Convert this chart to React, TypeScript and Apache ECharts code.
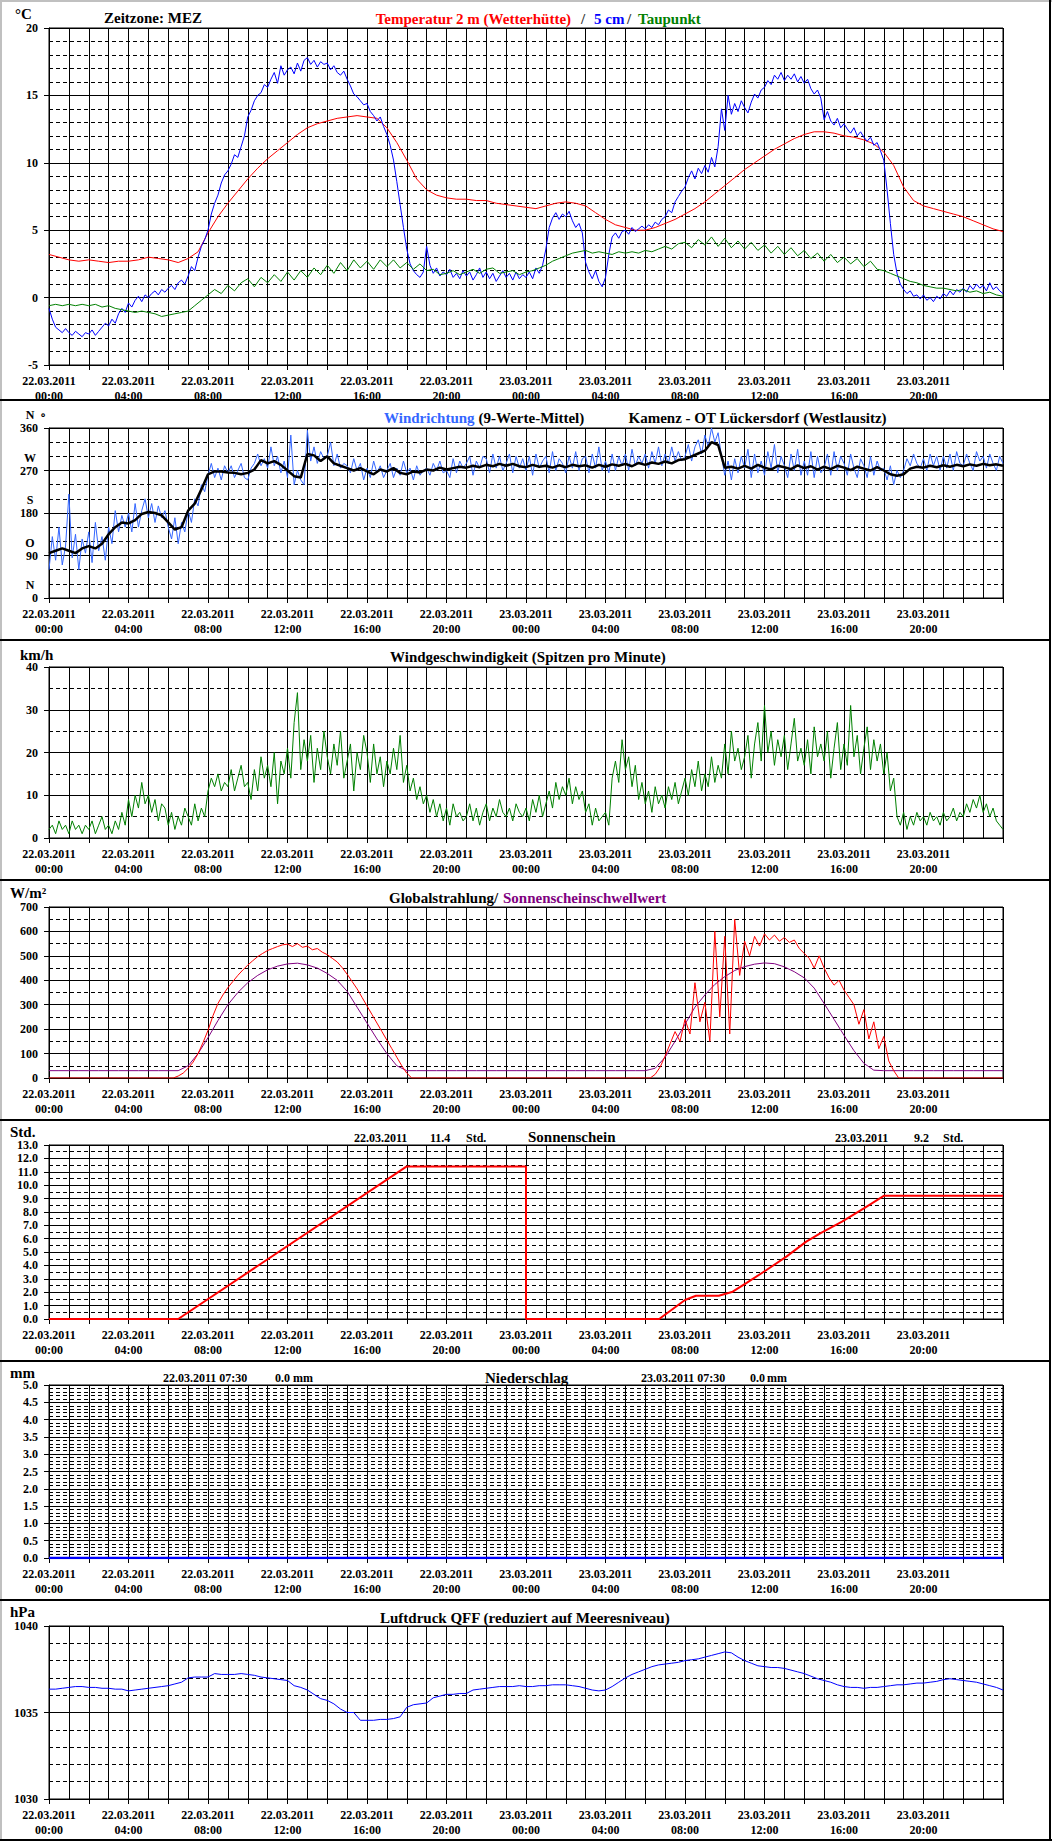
import React, { useEffect, useRef } from 'react';
import * as echarts from 'echarts';

const FONT = "'Times New Roman', 'Liberation Serif', 'DejaVu Serif', serif";

// ---- tick labels ----
const dates = ['22.03.2011', '23.03.2011'];
const times = ['00:00', '04:00', '08:00', '12:00', '16:00', '20:00'];
const dirLetterValues = [0, 90, 180, 270, 360];
const dirLetters = ['N', 'O', 'S', 'W', 'N'];

// ---- Panel 1: temperatures (°C) ----
// 2 m air temperature, every 30 min from 22.03 00:00
const temp2m = [
  3.2, 3.0, 2.8, 2.7, 2.8, 2.7, 2.6, 2.7, 2.7, 2.8, 3.0, 2.9, 2.8, 2.6, 2.9, 3.4,
  4.8, 6.0, 7.0, 7.9, 8.8, 9.6, 10.3, 10.9, 11.5, 12.1, 12.6, 12.9, 13.1, 13.3, 13.4, 13.5,
  13.4, 13.3, 12.6, 11.5, 10.2, 8.8, 8.0, 7.6, 7.4, 7.3, 7.3, 7.2, 7.2, 7.0, 6.9, 6.8,
  6.7, 6.6, 6.8, 7.0, 7.1, 7.0, 6.8, 6.3, 5.8, 5.4, 5.2, 5.0, 5.0, 5.2, 5.5, 5.8,
  6.2, 6.6, 7.1, 7.7, 8.3, 8.9, 9.5, 10.0, 10.5, 11.0, 11.4, 11.8, 12.1, 12.3, 12.3, 12.2,
  12.0, 11.9, 11.7, 11.4, 10.8, 9.8, 8.2, 7.2, 6.8, 6.6, 6.4, 6.2, 6.0, 5.7, 5.4, 5.1,
  4.9,
];
// 5 cm temperature, every 10 min
const temp5cm = [
  -0.8, -1.6, -2.2, -2.4, -2.6, -2.3,
  -2.6, -2.8, -2.5, -2.7, -2.9, -2.6,
  -2.7, -2.4, -2.8, -2.5, -2.2, -1.9,
  -2.1, -1.6, -1.9, -1.2, -0.8, -1.1,
  -0.4, -0.7, -0.2, 0.1, -0.3, 0.2,
  0.0, 0.3, 0.5, 0.2, 0.6, 0.4,
  0.7, 0.9, 0.6, 1.1, 1.3, 1.0,
  1.6, 2.3, 2.0, 3.0, 3.8, 4.3,
  5.0, 6.2, 7.0, 7.6, 8.5, 9.1,
  9.4, 9.9, 10.6, 10.4, 11.2, 12.0,
  13.4, 13.9, 14.6, 15.0, 15.2, 15.8,
  15.6, 16.2, 16.7, 15.9, 17.2, 16.5,
  16.9, 17.1, 16.6, 17.4, 16.8, 17.6,
  17.8, 17.3, 17.6, 17.1, 17.5, 17.3,
  17.4, 16.9, 17.2, 16.7, 16.5, 16.8,
  16.2, 15.7, 15.1, 14.9, 14.6, 14.3,
  14.4, 13.8, 13.5, 13.1, 13.4, 12.7,
  12.1, 11.3, 10.2, 8.6, 6.9, 5.2,
  3.6, 2.5, 2.0, 1.7, 1.5, 1.9,
  3.8, 2.4, 1.8, 2.2, 1.6, 1.9,
  1.7, 2.1, 1.5, 1.8, 1.4, 2.0,
  1.6, 1.9, 1.3, 1.7, 2.2, 1.5,
  1.9, 1.4, 1.8, 1.2, 1.6, 2.0,
  1.5, 1.8, 1.3, 1.9, 1.4, 1.7,
  1.5, 1.9, 1.4, 2.2, 1.8, 2.4,
  3.6, 5.2, 5.9, 6.3, 5.8, 6.2,
  6.0, 6.4, 5.7, 5.2, 5.5, 4.8,
  2.6, 1.9, 1.4, 2.0, 1.2, 0.8,
  1.5, 3.2, 4.5, 4.8, 4.4, 4.9,
  5.0, 4.7, 5.2, 4.9, 5.1, 5.3,
  5.1, 5.4, 5.2, 5.6, 5.4, 5.8,
  6.0, 6.5, 6.3, 7.1, 7.5, 7.9,
  8.2, 8.9, 9.4, 8.8, 9.6, 9.2,
  9.8, 9.3, 10.4, 9.7, 11.2, 14.0,
  12.4, 15.0, 13.6, 14.4, 13.8, 14.6,
  14.1, 13.7, 14.5, 15.1, 14.8, 15.4,
  15.6, 16.1, 15.8, 16.5, 16.2, 16.7,
  16.1, 16.5, 16.2, 16.6, 16.0, 16.4,
  15.9, 16.2, 15.5, 15.1, 15.4, 14.8,
  13.2, 13.8, 13.1, 12.8, 13.3, 12.6,
  12.9, 12.5, 12.2, 12.6, 12.0, 12.3,
  11.9, 11.6, 11.9, 11.3, 11.5, 10.9,
  10.2, 8.0, 5.5, 3.2, 1.8, 1.0,
  0.6, 0.3, 0.5, 0.1, 0.2, -0.1,
  0.2, -0.2, 0.0, -0.3, 0.1, -0.1,
  0.3, 0.1, 0.5, 0.2, 0.6, 0.4,
  0.7, 0.4, 0.9, 0.6, 1.0, 0.7,
  0.9, 0.5, 1.1, 0.6, 0.8, 0.5,
  0.3,
];
// dew point, every 20 min
const dewPoint = [
  -0.6, -0.5, -0.6, -0.5, -0.6, -0.5, -0.6, -0.5, -0.7, -0.6, -0.8, -0.9,
  -1.0, -1.1, -1.0, -1.1, -1.2, -1.4, -1.3, -1.2, -1.1, -1.0, -0.6, -0.2,
  0.2, 0.6, 0.3, 0.9, 0.5, 1.1, 1.4, 0.8, 1.5, 1.1, 1.7, 1.2,
  1.9, 1.3, 2.0, 1.5, 2.2, 1.7, 2.4, 1.8, 2.6, 2.0, 2.8, 2.2,
  2.7, 2.1, 2.8, 2.3, 2.8, 2.2, 2.6, 2.1, 2.5, 2.0, 2.1, 1.7,
  1.8, 2.0, 1.7, 1.9, 2.1, 1.8, 2.1, 2.2, 1.8, 1.9, 2.0, 1.7,
  1.9, 2.0, 2.2, 2.4, 2.7, 2.9, 3.1, 3.3, 3.4, 3.5, 3.3, 3.4,
  3.3, 3.2, 3.4, 3.3, 3.4, 3.3, 3.5, 3.4, 3.6, 3.8, 3.6, 4.0,
  4.1, 3.7, 4.3, 3.9, 4.5, 3.8, 4.4, 3.7, 4.2, 3.6, 4.1, 3.5,
  3.9, 3.3, 3.8, 3.2, 3.7, 3.1, 3.5, 2.9, 3.3, 2.7, 3.2, 2.6,
  3.0, 2.5, 2.9, 2.3, 2.7, 2.1, 2.0, 1.8, 1.6, 1.4, 1.2, 1.1,
  0.9, 0.8, 0.7, 0.7, 0.6, 0.5, 0.6, 0.4, 0.5, 0.3, 0.4, 0.2,
  0.1,
];

// ---- Panel 2: wind direction (degrees) ----
// raw, every 10 min
const windDirRaw = [
  60, 130, 80, 150, 70, 110,
  220, 85, 135, 60, 125, 95,
  140, 75, 160, 100, 130, 80,
  150, 115, 185, 140, 175, 150,
  180, 140, 200, 150, 185, 210,
  170, 200, 160, 195, 170, 185,
  150, 125, 170, 115, 160, 140,
  185, 160, 210, 195, 240, 225,
  260, 285, 255, 275, 250, 280,
  265, 280, 255, 270, 285, 255,
  250, 275, 285, 305, 280, 295,
  275, 320, 280, 300, 265, 290,
  255, 345, 240, 270, 250, 240,
  355, 290, 320, 285, 310, 295,
  300, 330, 280, 305, 275, 285,
  280, 265, 295, 270, 285, 250,
  275, 255, 290, 265, 280, 255,
  270, 285, 255, 275, 260, 290,
  265, 275, 250, 280, 260, 270,
  275, 260, 285, 270, 290, 265,
  270, 255, 295, 265, 290, 275,
  285, 300, 260, 290, 275, 300,
  295, 265, 305, 275, 300, 270,
  285, 305, 265, 300, 275, 295,
  270, 300, 260, 305, 275, 290,
  300, 265, 310, 270, 295, 285,
  265, 300, 275, 310, 270, 295,
  300, 265, 305, 275, 320, 270,
  290, 265, 305, 270, 300, 280,
  305, 270, 315, 280, 300, 285,
  305, 275, 310, 285, 320, 280,
  305, 285, 320, 290, 310, 290,
  300, 325, 290, 320, 335, 305,
  345, 320, 360, 330, 350, 300,
  260, 290, 250, 295, 265, 300,
  275, 315, 255, 305, 265, 290,
  260, 310, 275, 325, 265, 300,
  280, 255, 305, 270, 315, 260,
  290, 260, 310, 255, 300, 265,
  275, 305, 260, 310, 270, 300,
  285, 260, 305, 275, 255, 295,
  280, 255, 300, 260, 290, 270,
  275, 250, 280, 240, 270, 255,
  270, 295, 280, 305, 285, 275,
  295, 270, 305, 280, 300, 270,
  300, 275, 305, 270, 310, 285,
  280, 305, 285, 270, 310, 290,
  300, 275, 305, 285, 270, 300,
  285,
];
// 9-value mean, every 20 min
const windDirMean = [
  95, 100, 105, 100, 95, 105, 110, 105, 115, 135, 150, 160,
  158, 165, 178, 182, 180, 175, 160, 145, 150, 185, 200, 230,
  262, 268, 268, 266, 265, 262, 265, 272, 292, 285, 290, 282,
  270, 258, 255, 305, 302, 290, 300, 285, 280, 275, 270, 275,
  268, 262, 272, 268, 275, 265, 262, 268, 266, 272, 270, 276,
  272, 275, 278, 276, 280, 277, 282, 279, 284, 280, 284, 279,
  277, 282, 278, 280, 276, 281, 277, 282, 279, 281, 276, 282,
  278, 283, 280, 284, 279, 286, 282, 287, 284, 289, 285, 292,
  294, 300, 306, 312, 330, 324, 276, 278, 274, 280, 274, 282,
  276, 272, 280, 277, 273, 281, 275, 279, 272, 278, 273, 280,
  276, 271, 278, 274, 270, 277, 270, 262, 259, 262, 274, 278,
  276, 280, 277, 281, 278, 282, 279, 283, 280, 284, 281, 283,
  280,
];

// ---- Panel 3: wind speed peaks (km/h), every 10 min ----
const windSpeed = [
  2, 3, 1, 4, 2, 3,
  1, 4, 2, 3, 1, 3,
  2, 4, 1, 3, 5, 2,
  3, 1, 4, 2, 6, 3,
  9, 5, 10, 7, 13, 8,
  10, 6, 9, 4, 8, 7,
  3, 6, 2, 5, 3, 7,
  5, 3, 8, 4, 7, 5,
  11, 14, 12, 15, 11, 13,
  12, 16, 11, 14, 17, 12,
  13, 9, 16, 11, 19, 14,
  17, 12, 20, 8, 18, 15,
  21, 14, 27, 34, 16, 23,
  18, 24, 13, 21, 16, 25,
  19, 15, 22, 17, 25, 14,
  18, 22, 11, 20, 16, 24,
  20, 13, 22, 15, 19, 12,
  18, 15, 21, 16, 24, 13,
  17, 11, 14, 9, 12, 8,
  10, 6, 9, 5, 8, 4,
  7, 3, 8, 5, 6, 4,
  5, 8, 4, 7, 3, 6,
  8, 4, 7, 5, 9, 6,
  5, 7, 4, 8, 6, 5,
  7, 4, 9, 6, 10, 5,
  8, 11, 7, 13, 9, 12,
  10, 14, 8, 12, 9, 11,
  6, 8, 3, 7, 4, 5,
  6, 3, 14, 18, 13, 23,
  16, 19, 12, 17, 9, 13,
  8, 11, 6, 12, 8, 10,
  7, 12, 9, 13, 8, 11,
  14, 10, 16, 12, 18, 11,
  15, 12, 19, 13, 17, 14,
  22, 15, 25, 18, 21, 16,
  19, 24, 14, 22, 27, 18,
  31, 20, 25, 17, 23, 19,
  24, 16, 22, 28, 18, 21,
  17, 23, 15, 26, 19, 22,
  18, 25, 14, 21, 27, 16,
  22, 17, 31, 19, 24, 15,
  21, 26, 16, 23, 18, 22,
  15, 20, 11, 14, 5, 3,
  6, 2, 5, 3, 6, 4,
  5, 3, 6, 4, 5, 3,
  6, 4, 5, 7, 4, 6,
  5, 8, 6, 9, 7, 10,
  6, 8, 5, 7, 4, 3,
  2,
];

// ---- Panel 4: global radiation (W/m²), every 15 min ----
const globalRad = [
  0, 0, 0, 0, 0, 0, 0, 0, 0, 0, 0, 0, 0, 0, 0, 0, 0, 0, 0, 0, 0, 0, 0, 0,
  0, 0, 8, 20,
  40, 65, 100, 145,
  195, 255, 305, 340,
  370, 395, 420, 442,
  462, 480, 497, 510,
  522, 530, 538, 545,
  548, 538, 550, 535,
  540, 525, 530, 515,
  505, 490, 475, 452,
  425, 395, 365, 330,
  295, 260, 225, 190,
  155, 120, 85, 50,
  20, 0, 0, 0,
  0, 0, 0, 0, 0, 0, 0, 0, 0, 0, 0, 0, 0, 0, 0, 0, 0, 0, 0, 0, 0, 0, 0, 0,
  0, 0, 0, 0, 0, 0, 0, 0, 0, 0, 0, 0, 0, 0, 0, 0, 0, 0, 0, 0,
  0, 0, 15, 45,
  90, 140, 190, 150,
  240, 180, 390, 230,
  310, 150, 600, 250,
  580, 180, 650, 420,
  560, 500, 580, 540,
  590, 565, 585, 560,
  575, 555, 565, 530,
  510, 490, 450, 500,
  450, 410, 380, 400,
  360, 330, 300, 220,
  280, 160, 230, 120,
  170, 70, 30, 0,
  0, 0, 0, 0, 0, 0, 0, 0, 0, 0, 0, 0, 0, 0, 0, 0, 0, 0, 0, 0,
  0,
];
// sunshine threshold (W/m²), every 30 min
const sunThreshold = [
  30, 30, 30, 30, 30, 30, 30, 30, 30, 30, 30, 30, 30, 30,
  50, 100, 165, 235, 300, 350, 390, 420, 443, 458, 467, 470,
  463, 450, 428, 400, 355, 290, 225, 160, 100, 50, 30, 30,
  30, 30, 30, 30, 30, 30, 30, 30, 30, 30, 30, 30, 30, 30, 30, 30,
  30, 30, 30, 30, 30, 30, 30, 40,
  85, 150, 220, 290, 340, 383, 415, 440, 456, 466, 471, 468,
  455, 435, 410, 368, 305, 240, 175, 112, 60, 32, 30, 30,
  30, 30, 30, 30, 30, 30, 30, 30, 30, 30,
  30,
];

// ---- Panel 5: cumulative sunshine (h) ----
const sunHours = [0, 6.5, 18.0, 24.0, 24.0, 30.7, 32.0, 32.55, 33.7, 34.4, 35.1, 36.1, 37.1, 38.1, 38.8, 39.9, 41.0, 42.0, 48.0];
const sunValues = [0, 0, 11.4, 11.4, 0, 0, 1.42, 1.74, 1.74, 2.04, 2.7, 3.66, 4.66, 5.78, 6.4, 7.27, 8.27, 9.2, 9.2];

// ---- Panel 6: precipitation (mm) ----
const precipHours = [0, 48];
const precipValues = [0, 0];

// ---- Panel 7: pressure QFF (hPa), every 20 min ----
const pressure = [
  1036.35, 1036.35, 1036.4, 1036.45, 1036.5, 1036.5, 1036.45, 1036.45, 1036.4, 1036.4, 1036.35, 1036.35,
  1036.25, 1036.3, 1036.35, 1036.4, 1036.45, 1036.5, 1036.55, 1036.65, 1036.75, 1037.0, 1037.05, 1037.05,
  1037.05, 1037.25, 1037.2, 1037.2, 1037.2, 1037.25, 1037.2, 1037.15, 1037.05, 1037.0, 1036.95, 1036.9,
  1036.85, 1036.55, 1036.45, 1036.3, 1036.05, 1035.8, 1035.7, 1035.5, 1035.2, 1035.0, 1035.0, 1034.55,
  1034.55, 1034.55, 1034.6, 1034.6, 1034.65, 1034.75, 1035.3, 1035.45, 1035.5, 1035.55, 1035.85, 1035.95,
  1036.05, 1036.05, 1036.1, 1036.1, 1036.3, 1036.35, 1036.4, 1036.45, 1036.5, 1036.5, 1036.5, 1036.55,
  1036.5, 1036.5, 1036.55, 1036.55, 1036.6, 1036.6, 1036.6, 1036.55, 1036.5, 1036.4, 1036.3, 1036.25,
  1036.3, 1036.5, 1036.75, 1037.0, 1037.2, 1037.35, 1037.5, 1037.65, 1037.75, 1037.8, 1037.85, 1037.9,
  1038.0, 1038.05, 1038.1, 1038.2, 1038.3, 1038.4, 1038.5, 1038.45, 1038.2, 1038.0, 1037.85, 1037.7,
  1037.65, 1037.6, 1037.6, 1037.55, 1037.45, 1037.35, 1037.25, 1037.1, 1036.95, 1036.85, 1036.75, 1036.6,
  1036.5, 1036.45, 1036.45, 1036.4, 1036.45, 1036.45, 1036.5, 1036.55, 1036.6, 1036.6, 1036.65, 1036.7,
  1036.7, 1036.75, 1036.8, 1036.9, 1036.95, 1036.9, 1036.85, 1036.8, 1036.75, 1036.65, 1036.55, 1036.45,
  1036.3,
];

// ---- helpers ----
const stepped = (values: number[], step: number) => values.map((v, i) => [i * step, v]);
const zip = (xs: number[], ys: number[]) => xs.map((x, i) => [x, ys[i]]);

function xLabel(v: number) {
  if (v % 4 !== 0 || v >= 48) return '';
  return dates[Math.floor(v / 24)] + '\n' + times[(v % 24) / 4];
}

const PANELS = [
  { top: 28, height: 337, min: -5, max: 20, interval: 5, minor: 5, dec: 0 },
  { top: 428, height: 170, min: 0, max: 360, interval: 90, minor: 3, dec: 0 },
  { top: 667, height: 171, min: 0, max: 40, interval: 10, minor: 2, dec: 0 },
  { top: 907, height: 171, min: 0, max: 700, interval: 100, minor: 2, dec: 0 },
  { top: 1145, height: 174, min: 0, max: 13, interval: 1, minor: 2, dec: 1 },
  { top: 1385, height: 173, min: 0, max: 5, interval: 0.5, minor: 5, dec: 1 },
  { top: 1626, height: 173, min: 1030, max: 1040, interval: 5, minor: 5, dec: 0 },
];
const GRID_LEFT = 49;
const GRID_WIDTH = 954;

function txt(x: number, y: number, text: string, color = '#000', size = 15, align = 'left') {
  return {
    type: 'text', x, y, z: 50, silent: true,
    style: { text, fill: color, font: `bold ${size}px ${FONT}`, align, verticalAlign: 'middle' },
  };
}
function rect(x: number, y: number, width: number, height: number, fill: string) {
  return { type: 'rect', z: 40, silent: true, shape: { x, y, width, height }, style: { fill } };
}

function line(i: number, data: number[][], color: string, width = 1, z = 3) {
  return {
    type: 'line', xAxisIndex: i, yAxisIndex: i, data, showSymbol: false, symbol: 'none',
    lineStyle: { color, width }, itemStyle: { color }, z, silent: true,
    emphasis: { disabled: true }, animation: false,
  };
}

function buildOption() {
  const grid = PANELS.map((p) => ({
    left: GRID_LEFT, width: GRID_WIDTH, top: p.top, height: p.height,
    show: true, borderColor: '#000', borderWidth: 1, backgroundColor: 'transparent',
  }));
  const xAxis = PANELS.map((_, i) => ({
    type: 'value', gridIndex: i, min: 0, max: 48, interval: 2,
    axisLine: { show: true, onZero: false, lineStyle: { color: '#000', width: 1 } },
    axisTick: { show: true, length: 5, inside: false, lineStyle: { color: '#000', width: 1 } },
    axisLabel: {
      formatter: xLabel, color: '#000', fontFamily: FONT, fontWeight: 'bold', fontSize: 12,
      lineHeight: 14.5, margin: 9, showMinLabel: true, showMaxLabel: true,
    },
    splitLine: { show: true, lineStyle: { color: '#000', width: 1 } },
    minorTick: { show: false, splitNumber: 2 },
    minorSplitLine: { show: true, lineStyle: { color: '#000', width: 1 } },
  }));
  const yAxis = PANELS.map((p, i) => ({
    type: 'value', gridIndex: i, min: p.min, max: p.max, interval: p.interval,
    axisLine: { show: true, onZero: false, lineStyle: { color: '#000', width: 1 } },
    axisTick: { show: true, length: 5, inside: false, lineStyle: { color: '#000', width: 1 } },
    axisLabel: {
      color: '#000', fontFamily: FONT, fontWeight: 'bold', fontSize: 12, margin: 11,
      formatter: (v: number) => (p.dec ? v.toFixed(p.dec) : String(Math.round(v))),
    },
    splitLine: { show: true, lineStyle: { color: '#000', width: 1 } },
    minorTick: { show: false, splitNumber: p.minor },
    minorSplitLine: { show: true, lineStyle: { color: '#000', width: 1, type: [4, 3] } },
  }));

  const series = [
    line(0, stepped(temp2m, 0.5), '#ff0000'),
    line(0, stepped(temp5cm, 1 / 6), '#0000ff'),
    line(0, stepped(dewPoint, 1 / 3), '#008000'),
    line(1, stepped(windDirRaw, 1 / 6), '#3366ff'),
    line(1, stepped(windDirMean, 1 / 3), '#000000', 2.5, 4),
    line(2, stepped(windSpeed, 1 / 6), '#008000'),
    line(3, stepped(sunThreshold, 0.5), '#800080'),
    line(3, stepped(globalRad, 0.25), '#ff0000', 1, 4),
    line(4, zip(sunHours, sunValues), '#ff0000', 2),
    line(5, zip(precipHours, precipValues), '#0000ff', 2.5),
    line(6, stepped(pressure, 1 / 3), '#0000ff'),
  ];

  // direction letters above the degree labels of panel 2
  const p2 = PANELS[1];
  const dirTexts = dirLetterValues.map((v, k) =>
    txt(30, p2.top + ((p2.max - v) / (p2.max - p2.min)) * p2.height - 13, dirLetters[k], '#000', 12, 'center'),
  );

  const graphic = [
    // frame and panel separators
    rect(0, 0, 2, 1841, '#c0c0c0'),
    rect(0, 0, 1052, 2, '#c0c0c0'),
    rect(1049, 0, 2, 1841, '#000'),
    rect(0, 1839, 1052, 2, '#000'),
    rect(0, 399, 1051, 2, '#000'),
    rect(0, 639, 1051, 2, '#000'),
    rect(0, 879, 1051, 2, '#000'),
    rect(0, 1119, 1051, 2, '#000'),
    rect(0, 1360, 1051, 2, '#000'),
    rect(0, 1599, 1051, 2, '#000'),
    // panel 1
    txt(15, 14, '°C'),
    txt(104, 18, 'Zeitzone: MEZ'),
    txt(375.7, 18.5, 'Temperatur 2 m (Wetterhütte)', '#ff0000'),
    txt(581, 18.5, '/', '#333333'),
    txt(594, 18.5, '5 cm', '#0000ff'),
    txt(627, 18.5, '/', '#333333'),
    txt(638, 18.5, 'Taupunkt', '#008000'),
    // panel 2
    ...dirTexts,
    txt(43, 415, '∘', '#000', 12, 'center'),
    txt(384, 417.5, 'Windrichtung', '#3366ff'),
    txt(478.5, 417.5, '(9-Werte-Mittel)', '#000'),
    txt(628.5, 418, 'Kamenz - OT Lückersdorf (Westlausitz)', '#000'),
    // panel 3
    txt(20, 655, 'km/h'),
    txt(390, 657, 'Windgeschwindigkeit (Spitzen pro Minute)'),
    // panel 4
    txt(10, 893, 'W/m²'),
    txt(389, 898, 'Globalstrahlung/', '#000'),
    txt(503, 898, 'Sonnenscheinschwellwert', '#800080'),
    // panel 5
    txt(10, 1132, 'Std.'),
    txt(354, 1138, '22.03.2011', '#000', 12),
    txt(430, 1138, '11.4', '#000', 12),
    txt(466, 1138, 'Std.', '#000', 12),
    txt(528, 1137, 'Sonnenschein'),
    txt(835, 1138, '23.03.2011', '#000', 12),
    txt(914, 1138, '9.2', '#000', 12),
    txt(943, 1138, 'Std.', '#000', 12),
    // panel 6
    txt(10, 1373, 'mm'),
    txt(163, 1378, '22.03.2011 07:30', '#000', 12),
    txt(275, 1378, '0.0', '#000', 12),
    txt(293, 1378, 'mm', '#000', 12),
    txt(485, 1378, 'Niederschlag'),
    txt(641, 1378, '23.03.2011 07:30', '#000', 12),
    txt(750, 1378, '0.0', '#000', 12),
    txt(767, 1378, 'mm', '#000', 12),
    // panel 7
    txt(10, 1612, 'hPa'),
    txt(380, 1618, 'Luftdruck QFF (reduziert auf Meeresniveau)'),
  ];

  return {
    animation: false,
    backgroundColor: '#ffffff',
    textStyle: { fontFamily: FONT },
    grid, xAxis, yAxis, series, graphic,
  };
}

export default function App() {
  const ref = useRef<HTMLDivElement>(null);
  useEffect(() => {
    document.body.style.margin = '0';
    const chart = echarts.init(ref.current as HTMLDivElement, undefined, { renderer: 'svg' });
    chart.setOption(buildOption() as any);
    return () => chart.dispose();
  }, []);
  return <div ref={ref} style={{ width: 1052, height: 1841 }} />;
}
